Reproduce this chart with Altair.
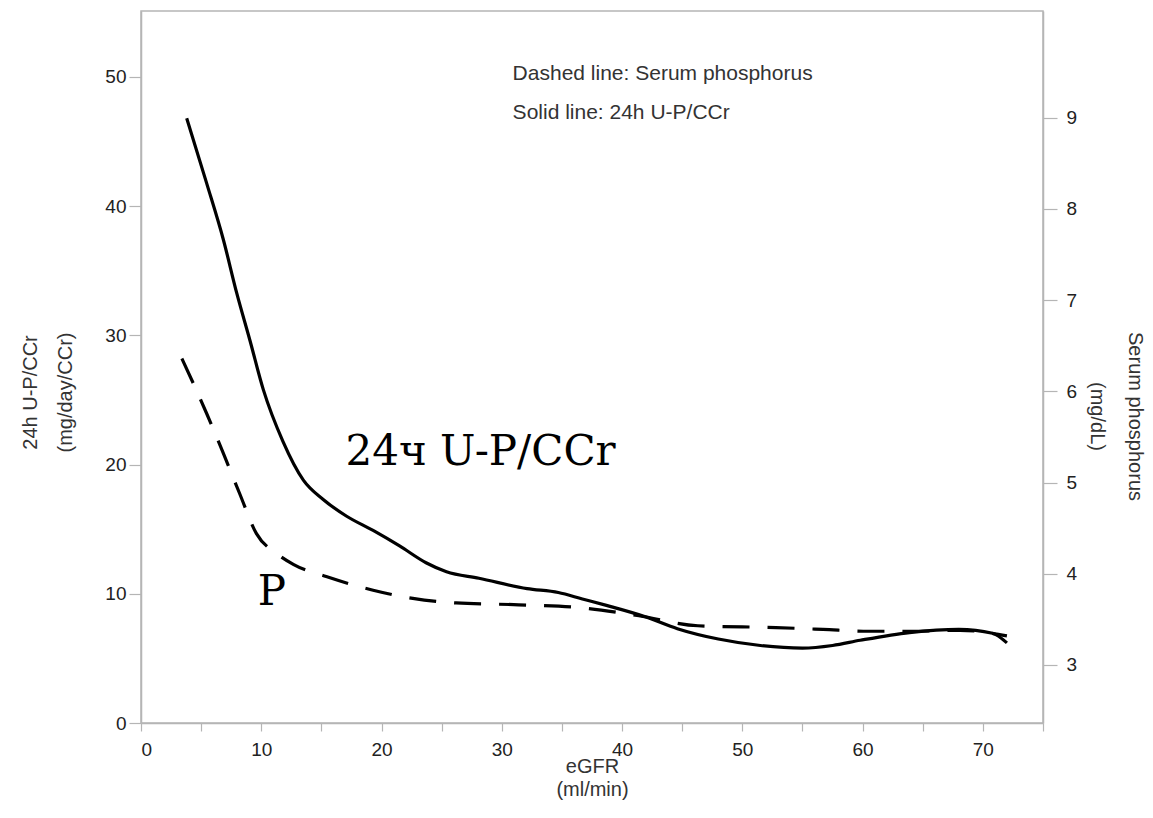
import altair as alt
import pandas as pd

# Solid line: 24h U-P/CCr (left axis)
egfr_solid = [3.8, 5.45, 6.85, 7.95, 9.06, 10.17, 11.8, 13.5, 15.15, 17.1, 19.3, 21.5,
              23.7, 25.4, 28.1, 32.1, 34.7, 36.7, 38.7, 42.0, 44.6, 48.0, 51.5, 55.0,
              57.5, 59.8, 63.9, 68.0, 70.8, 72.0]
upccr = [46.8, 41.8, 37.4, 33.3, 29.6, 25.8, 21.8, 18.8, 17.3, 16.0, 14.9, 13.7,
         12.4, 11.7, 11.2, 10.4, 10.1, 9.6, 9.1, 8.2, 7.3, 6.5, 6.0, 5.8,
         6.0, 6.4, 7.0, 7.25, 6.95, 6.2]

# Dashed line: serum phosphorus (right axis)
egfr_dash = [3.4, 5.45, 6.85, 8.2, 9.6, 11.3, 12.7, 15.4, 19.3, 22.6, 26.2, 31.4,
             36.4, 41.4, 46.3, 52.8, 56.7, 60.5, 64.2, 68.1, 72.0]
serum_p = [6.36, 5.76, 5.32, 4.88, 4.44, 4.22, 4.10, 3.97, 3.82, 3.73, 3.68, 3.66,
           3.63, 3.54, 3.43, 3.41, 3.39, 3.37, 3.37, 3.38, 3.32]

x_ticks = [0, 5, 10, 15, 20, 25, 30, 35, 40, 45, 50, 55, 60, 65, 70, 75]
left_ticks = [0, 10, 20, 30, 40, 50]
right_ticks = [3, 4, 5, 6, 7, 8, 9]

legend_texts = ["Dashed line: Serum phosphorus", "Solid line: 24h U-P/CCr"]
legend_x = [30.9, 30.9]
legend_y = [49.75, 46.75]

big_labels = ["24ч U-P/CCr", "P"]
big_x = [17.0, 9.7]
big_y = [19.97, 9.13]

solid_df = pd.DataFrame({"egfr": egfr_solid, "v": upccr})
dash_df = pd.DataFrame({"egfr": egfr_dash, "p": serum_p})
legend_df = pd.DataFrame({"egfr": legend_x, "v": legend_y, "t": legend_texts})
big_df = pd.DataFrame({"egfr": big_x, "v": big_y, "t": big_labels})

x_scale = alt.Scale(domain=[0, 75], nice=False, zero=False)
left_scale = alt.Scale(domain=[0, 55.1], nice=False)
right_scale = alt.Scale(domain=[2.364, 10.17], nice=False, zero=False)

x_axis = alt.Axis(
    values=x_ticks,
    labelExpr="datum.value % 10 === 0 && datum.value < 75 ? datum.label : ''",
    title=["eGFR", "(ml/min)"],
    tickSize=8, labelPadding=9,
    titleX=451, titleY=43, titleAlign="center", titleBaseline="middle",
    titleLineHeight=23,
)
left_axis = alt.Axis(
    values=left_ticks,
    title=["24h U-P/CCr", "(mg/day/CCr)"],
    tickSize=12, labelPadding=3,
    titleAngle=270, titleX=-111, titleY=381, titleAlign="center",
    titleBaseline="middle", titleLineHeight=35,
)
right_axis = alt.Axis(
    values=right_ticks, orient="right",
    title=["Serum phosphorus", "(mg/dL)"],
    tickSize=14, labelPadding=9,
    titleAngle=90, titleX=91, titleY=405, titleAlign="center",
    titleBaseline="middle", titleLineHeight=38,
)

X = alt.X("egfr:Q", scale=x_scale, axis=x_axis)
YL = alt.Y("v:Q", scale=left_scale, axis=left_axis)

solid = alt.Chart(solid_df).mark_line(
    color="black", strokeWidth=3.2, interpolate="monotone"
).encode(x=X, y=YL)

legend = alt.Chart(legend_df).mark_text(
    align="left", baseline="alphabetic", font="Liberation Sans", fontSize=21,
    color="#333"
).encode(x=X, y=YL, text="t:N")

big = alt.Chart(big_df).mark_text(
    align="left", baseline="alphabetic", font="DejaVu Serif", fontSize=42,
    color="black"
).encode(x=X, y=YL, text="t:N")

left_layer = alt.layer(solid, legend, big)

dashed = alt.Chart(dash_df).mark_line(
    color="black", strokeWidth=3.2, strokeDash=[27, 18], interpolate="monotone"
).encode(x=X, y=alt.Y("p:Q", scale=right_scale, axis=right_axis))

chart = alt.layer(left_layer, dashed).resolve_scale(y="independent").properties(
    width=902, height=712,
    padding={"left": 133, "top": 3, "right": 102, "bottom": 85},
    autosize=alt.AutoSizeParams(type="none"),
    background="white",
).configure_view(
    stroke="#b5b5b5", strokeWidth=1.5
).configure_axis(
    grid=False,
    domainColor="#b5b5b5", domainWidth=1.5,
    tickColor="#b5b5b5", tickWidth=1.2,
    labelColor="#222", labelFont="Liberation Sans", labelFontSize=19,
    titleColor="#333", titleFont="Liberation Sans", titleFontSize=20,
    titleFontWeight="normal",
)

chart.save("out.html", embed_options={"renderer": "svg", "actions": False})
